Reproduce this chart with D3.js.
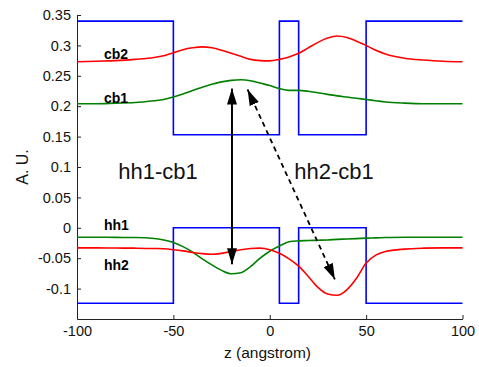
<!DOCTYPE html>
<html>
<head>
<meta charset="utf-8">
<script src="https://cdn.jsdelivr.net/npm/d3@7"></script>
<style>
  body { margin: 0; background: #fff; }
  text { font-family: "Liberation Sans", Arial, sans-serif; }
</style>
</head>
<body>
<div id="chart"></div>
<script>
var svgWidth = 479;
var svgHeight = 367;

// position grid (angstrom) shared by the four level curves
var zGrid = [-100, -90, -80, -70, -60, -55, -50, -45, -40, -35, -30, -25, -20, -15, -10, -5,
  0, 5, 10, 15, 20, 25, 30, 35, 40, 45, 50, 55, 60, 70, 80, 90, 100];

var cb2 = [0.273, 0.274, 0.275, 0.277, 0.280, 0.283, 0.288, 0.293, 0.296, 0.2975, 0.296, 0.292,
  0.287, 0.282, 0.277, 0.275, 0.2745, 0.277, 0.281, 0.287, 0.296, 0.305, 0.312, 0.3155, 0.313,
  0.307, 0.300, 0.292, 0.286, 0.279, 0.276, 0.274, 0.273];

var cb1 = [0.204, 0.204, 0.205, 0.206, 0.209, 0.211, 0.215, 0.220, 0.226, 0.231, 0.236, 0.240,
  0.2425, 0.2435, 0.242, 0.238, 0.234, 0.229, 0.226, 0.226, 0.2245, 0.222, 0.2195, 0.217, 0.215,
  0.213, 0.211, 0.209, 0.207, 0.205, 0.204, 0.204, 0.204];

var hh1 = [-0.0155, -0.0155, -0.0158, -0.016, -0.0175, -0.020, -0.024, -0.031, -0.040, -0.051,
  -0.061, -0.070, -0.0755, -0.074, -0.064, -0.050, -0.0385, -0.030, -0.023, -0.0215, -0.021,
  -0.0205, -0.020, -0.019, -0.0185, -0.0178, -0.017, -0.0165, -0.016, -0.0155, -0.0155, -0.0155, -0.0155];

var hh2 = [-0.033, -0.033, -0.0333, -0.0335, -0.034, -0.0345, -0.036, -0.038, -0.0405, -0.0425,
  -0.0435, -0.042, -0.039, -0.036, -0.034, -0.0335, -0.036, -0.042, -0.051, -0.063, -0.080,
  -0.098, -0.109, -0.111, -0.102, -0.083, -0.058, -0.045, -0.039, -0.035, -0.0335, -0.033, -0.033];

// band edge potential: layer boundaries and level of each layer
var layerBounds = [-100, -50, 5, 15, 50, 100];
var cbLevels = [0.34, 0.153, 0.34, 0.153, 0.34];
var vbLevels = [-0.124, 0, -0.124, 0, -0.124];

var xTicks = [-100, -50, 0, 50, 100];
var yTicks = [-0.1, -0.05, 0, 0.05, 0.1, 0.15, 0.2, 0.25, 0.3, 0.35];

// transitions: [z, energy] of both ends
var solidArrow = [[-19.6, 0.229], [-19.6, -0.060]];
var dashArrow = [[-11.5, 0.2275], [33.8, -0.085]];

var levelLabels = [
  {text: "cb2", z: -86, e: 0.277},
  {text: "cb1", z: -86, e: 0.2045},
  {text: "hh1", z: -86, e: -0.003},
  {text: "hh2", z: -86, e: -0.0686}
];
var transLabels = [
  {text: "hh1-cb1", z: -78.6, e: 0.0805},
  {text: "hh2-cb1", z: 12.7, e: 0.0805}
];

var margin = {top: 15, right: 16.5, bottom: 48, left: 77};
var width = svgWidth - margin.left - margin.right;
var height = svgHeight - margin.top - margin.bottom;

var svg = d3.select("#chart")
  .append("svg")
  .attr("width", svgWidth)
  .attr("height", svgHeight);

var defs = svg.append("defs");
defs.append("marker")
  .attr("id", "head")
  .attr("viewBox", "0 0 16 10")
  .attr("refX", 16)
  .attr("refY", 5)
  .attr("markerWidth", 16)
  .attr("markerHeight", 10)
  .attr("markerUnits", "userSpaceOnUse")
  .attr("orient", "auto-start-reverse")
  .append("path")
  .attr("d", "M0,0L16,5L0,10Z")
  .attr("fill", "black");

var chartGroup = svg.append("g")
  .attr("transform", `translate(${margin.left}, ${margin.top})`);

var x = d3.scaleLinear().domain([-100, 100]).range([0, width]);
var y = d3.scaleLinear().domain([-0.15, 0.35]).range([height, 0]);

// axes, MATLAB style ticks pointing inward
var bottomAxis = d3.axisBottom(x).tickValues(xTicks).tickSizeInner(-4).tickSizeOuter(0).tickPadding(7)
  .tickFormat(d => String(d));
var leftAxis = d3.axisLeft(y).tickValues(yTicks).tickSizeInner(-4).tickSizeOuter(0).tickPadding(6)
  .tickFormat(d => String(+d.toFixed(2)));

var xAxisG = chartGroup.append("g")
  .attr("transform", `translate(0, ${height})`)
  .call(bottomAxis);
var yAxisG = chartGroup.append("g").call(leftAxis);

[xAxisG, yAxisG].forEach(function(g) {
  g.selectAll("text").attr("font-size", "14.5px").attr("fill", "#111").style("font-family", "Liberation Sans, Arial");
  g.selectAll("line, path").attr("stroke", "#222");
});

// band edges
function steps(levels) {
  var pts = levels.map((v, i) => [layerBounds[i], v]);
  pts.push([layerBounds[layerBounds.length - 1], levels[levels.length - 1]]);
  return pts;
}
var stepLine = d3.line()
  .x(d => x(d[0]))
  .y(d => y(d[1]))
  .curve(d3.curveStepAfter);

[cbLevels, vbLevels].forEach(function(levels) {
  chartGroup.append("path")
    .attr("d", stepLine(steps(levels)))
    .attr("fill", "none")
    .attr("stroke", "#0000ff")
    .attr("stroke-width", 1.6);
});

// levels with |psi|^2
var curve = d3.line()
  .x((d, i) => x(zGrid[i]))
  .y(d => y(d))
  .curve(d3.curveMonotoneX);

var series = [
  {vals: cb2, color: "#ff0000"},
  {vals: cb1, color: "#008000"},
  {vals: hh1, color: "#008000"},
  {vals: hh2, color: "#ff0000"}
];
series.forEach(function(s) {
  chartGroup.append("path")
    .attr("d", curve(s.vals))
    .attr("fill", "none")
    .attr("stroke", s.color)
    .attr("stroke-width", 1.6);
});

// transition arrows
chartGroup.append("line")
  .attr("x1", x(solidArrow[0][0])).attr("y1", y(solidArrow[0][1]))
  .attr("x2", x(solidArrow[1][0])).attr("y2", y(solidArrow[1][1]))
  .attr("stroke", "black")
  .attr("stroke-width", 2)
  .attr("marker-start", "url(#head)")
  .attr("marker-end", "url(#head)");

chartGroup.append("line")
  .attr("x1", x(dashArrow[0][0])).attr("y1", y(dashArrow[0][1]))
  .attr("x2", x(dashArrow[1][0])).attr("y2", y(dashArrow[1][1]))
  .attr("stroke", "black")
  .attr("stroke-width", 1.8)
  .attr("stroke-dasharray", "5,4")
  .attr("marker-start", "url(#head)")
  .attr("marker-end", "url(#head)");

// labels
chartGroup.selectAll(".lvl")
  .data(levelLabels)
  .enter()
  .append("text")
  .attr("class", "lvl")
  .attr("x", d => x(d.z))
  .attr("y", d => y(d.e))
  .attr("font-size", "14px")
  .attr("font-weight", "bold")
  .text(d => d.text);

chartGroup.selectAll(".trans")
  .data(transLabels)
  .enter()
  .append("text")
  .attr("class", "trans")
  .attr("x", d => x(d.z))
  .attr("y", d => y(d.e))
  .attr("font-size", "22px")
  .attr("fill", "#111")
  .text(d => d.text);

// axis titles
svg.append("text")
  .attr("transform", "rotate(-90)")
  .attr("x", -167)
  .attr("y", 28)
  .attr("text-anchor", "middle")
  .attr("font-size", "16px")
  .attr("fill", "#111")
  .text("A. U.");

svg.append("text")
  .attr("x", 267.5)
  .attr("y", 357.5)
  .attr("text-anchor", "middle")
  .attr("font-size", "15.5px")
  .attr("fill", "#111")
  .text("z (angstrom)");
</script>
</body>
</html>
